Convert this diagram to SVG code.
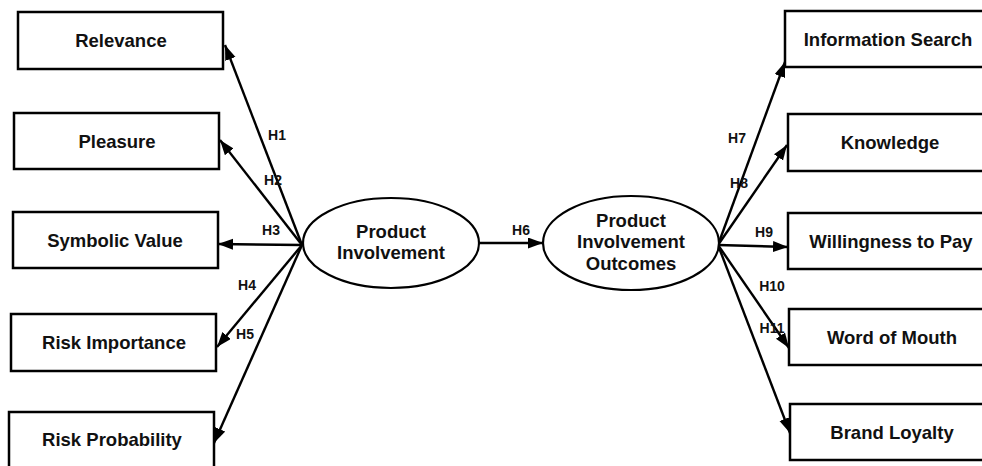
<svg xmlns="http://www.w3.org/2000/svg" width="982" height="466" viewBox="0 0 982 466">
<defs>
<style>
.box{fill:#fff;stroke:#000;stroke-width:2.5}
.ell{fill:#fff;stroke:#000;stroke-width:2.2}
.t{font-family:"Liberation Sans",Arial,sans-serif;font-weight:bold;font-size:18.5px;fill:#111;text-anchor:middle}
.h{font-family:"Liberation Sans",Arial,sans-serif;font-weight:bold;font-size:14px;fill:#111;text-anchor:middle}
.c{stroke:#000;stroke-width:2.4;fill:none;marker-end:url(#ah)}
</style>
<marker id="ah" markerUnits="userSpaceOnUse" markerWidth="16" markerHeight="12" refX="15" refY="5.5" orient="auto">
<path d="M0,0 L15,5.5 L0,11 z" fill="#000"/>
</marker>
</defs>
<g id="connectors">
<line class="c" x1="302" y1="245" x2="225" y2="45"/>
<line class="c" x1="302" y1="245" x2="220" y2="140"/>
<line class="c" x1="302" y1="245" x2="218" y2="244"/>
<line class="c" x1="302" y1="245" x2="217" y2="347"/>
<line class="c" x1="302" y1="245" x2="214" y2="443"/>
<line class="c" x1="479" y1="243" x2="543" y2="243"/>
<line class="c" x1="718" y1="245" x2="785" y2="62"/>
<line class="c" x1="718" y1="245" x2="787" y2="145"/>
<line class="c" x1="718" y1="245" x2="788" y2="247"/>
<line class="c" x1="718" y1="245" x2="789" y2="348"/>
<line class="c" x1="718" y1="245" x2="790" y2="433"/>
<text class="h" x="277" y="140">H1</text>
<text class="h" x="273" y="185">H2</text>
<text class="h" x="271" y="235">H3</text>
<text class="h" x="247" y="290">H4</text>
<text class="h" x="245" y="339">H5</text>
<text class="h" x="521" y="235">H6</text>
<text class="h" x="737" y="143">H7</text>
<text class="h" x="739" y="188">H8</text>
<text class="h" x="764" y="237">H9</text>
<text class="h" x="772" y="291">H10</text>
<text class="h" x="772" y="333">H11</text>
</g>
<g id="relevance"><rect class="box" x="18" y="12" width="205" height="57"/><text class="t" x="121" y="47">Relevance</text></g>
<g id="pleasure"><rect class="box" x="14" y="113" width="205" height="56"/><text class="t" x="117" y="147.5">Pleasure</text></g>
<g id="symbolic-value"><rect class="box" x="13" y="212" width="205" height="56"/><text class="t" x="115" y="246.5">Symbolic Value</text></g>
<g id="risk-importance"><rect class="box" x="11" y="314" width="205" height="57"/><text class="t" x="114" y="349">Risk Importance</text></g>
<g id="risk-probability"><rect class="box" x="9" y="412" width="205" height="57"/><text class="t" x="112" y="446">Risk Probability</text></g>
<g id="product-involvement"><ellipse class="ell" cx="391" cy="243" rx="88" ry="45"/><text class="t" x="391" y="238">Product</text><text class="t" x="391" y="259">Involvement</text></g>
<g id="product-involvement-outcomes"><ellipse class="ell" cx="631" cy="243" rx="88" ry="47"/><text class="t" x="631" y="227">Product</text><text class="t" x="631" y="248">Involvement</text><text class="t" x="631" y="270">Outcomes</text></g>
<g id="information-search"><rect class="box" x="785" y="11" width="206" height="56"/><text class="t" x="888" y="45.5">Information Search</text></g>
<g id="knowledge"><rect class="box" x="788" y="114" width="206" height="57"/><text class="t" x="890" y="149">Knowledge</text></g>
<g id="willingness-to-pay"><rect class="box" x="788" y="213" width="206" height="56"/><text class="t" x="891" y="247.5">Willingness to Pay</text></g>
<g id="word-of-mouth"><rect class="box" x="789" y="309" width="206" height="56"/><text class="t" x="892" y="343.5">Word of Mouth</text></g>
<g id="brand-loyalty"><rect class="box" x="790" y="404" width="206" height="56"/><text class="t" x="892" y="438.5">Brand Loyalty</text></g>
</svg>
